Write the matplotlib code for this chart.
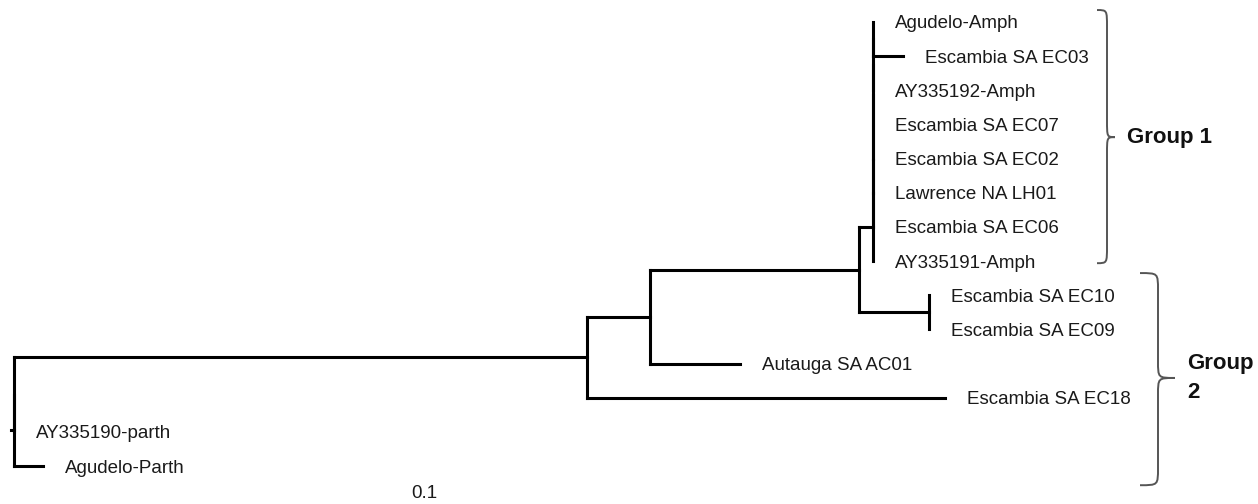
import matplotlib
matplotlib.use("Agg")
import matplotlib.pyplot as plt
from matplotlib.path import Path
from matplotlib.patches import PathPatch

plt.rcParams['font.family'] = ['Liberation Sans', 'DejaVu Sans']

# tree in newick form, branch lengths
newick = ("((((((((((((Agudelo-Amph:0,Escambia SA EC03:0.030):0,AY335192-Amph:0):0,"
          "Escambia SA EC07:0):0,Escambia SA EC02:0):0,Lawrence NA LH01:0):0,"
          "Escambia SA EC06:0):0,AY335191-Amph:0):0.014,"
          "(Escambia SA EC10:0,Escambia SA EC09:0):0.070):0.209,"
          "Autauga SA AC01:0.090):0.063,Escambia SA EC18:0.358):0.573,"
          "AY335190-parth:0):0,Agudelo-Parth:0.029);")

group_names = ["Group 1", "Group\n2"]
group_spans = [(-0.35, 7.06), (7.35, 13.56)]
group_tips = [3.37, 10.42]
scale_label = "0.1"


def parse(s):
    pos = 0

    def node():
        nonlocal pos
        kids = []
        if s[pos] == "(":
            pos += 1
            kids.append(node())
            while s[pos] == ",":
                pos += 1
                kids.append(node())
            pos += 1
        start = pos
        while s[pos] not in ":,);":
            pos += 1
        name = s[start:pos]
        length = 0.0
        if s[pos] == ":":
            pos += 1
            start = pos
            while s[pos] not in ",);":
                pos += 1
            length = float(s[start:pos])
        return {"name": name, "len": length, "kids": kids}

    return node()


tree = parse(newick)
leaves = []


def layout(nd, x):
    nd["x"] = x + nd["len"]
    if not nd["kids"]:
        nd["y"] = len(leaves)
        leaves.append(nd)
    else:
        for k in nd["kids"]:
            layout(k, nd["x"])
        nd["y"] = (nd["kids"][0]["y"] + nd["kids"][-1]["y"]) / 2.0


tree["len"] = 0.0
layout(tree, 0.0)

fig = plt.figure(figsize=(12.58, 5.04), dpi=100)
ax = fig.add_axes([0, 0, 1, 1])
ax.set_xlim(-0.014, 1.244)
ax.set_ylim(14.11, -0.644)
ax.axis('off')

lw = 2.2
kw = dict(color='black', lw=lw, solid_capstyle='projecting')


def draw(nd):
    if nd["kids"]:
        ys = [k["y"] for k in nd["kids"]]
        ax.plot([nd["x"], nd["x"]], [min(ys), max(ys)], **kw)
        for k in nd["kids"]:
            if k["x"] > nd["x"]:
                ax.plot([nd["x"], k["x"]], [k["y"], k["y"]], **kw)
            draw(k)
    else:
        ax.text(nd["x"] + 0.022, nd["y"], nd["name"], fontsize=13.5,
                color='#1a1a1a', ha='left', va='center_baseline')


draw(tree)
# small root stub
ax.plot([tree["x"] - 0.003, tree["x"]], [tree["y"], tree["y"]], **kw)


def brace(xe, xv, xt, y0, y1, ym, r=0.5):
    verts = [(xe, y0), (xv, y0), (xv, y0), (xv, y0 + r),
             (xv, ym - r),
             (xv, ym), (xv, ym), (xt, ym),
             (xv, ym), (xv, ym), (xv, ym + r),
             (xv, y1 - r),
             (xv, y1), (xv, y1), (xe, y1)]
    codes = [Path.MOVETO, Path.CURVE4, Path.CURVE4, Path.CURVE4,
             Path.LINETO,
             Path.CURVE4, Path.CURVE4, Path.CURVE4,
             Path.CURVE4, Path.CURVE4, Path.CURVE4,
             Path.LINETO,
             Path.CURVE4, Path.CURVE4, Path.CURVE4]
    ax.add_patch(PathPatch(Path(verts, codes), fill=False, ec='#555555', lw=1.4))


brace_x = [(1.083, 1.093, 1.101), (1.126, 1.144, 1.161)]
for (xe, xv, xt), (y0, y1), ym, name in zip(brace_x, group_spans, group_tips, group_names):
    brace(xe, xv, xt, y0, y1, ym)
    ax.text(xt + 0.012, ym, name, fontsize=16, fontweight='bold',
            ha='left', va='center', linespacing=1.5, color='#111111')

ax.text(0.410, 13.79, scale_label, fontsize=13.5, ha='center', va='center',
        color='#1a1a1a')

fig.savefig('out.png', dpi=100)
